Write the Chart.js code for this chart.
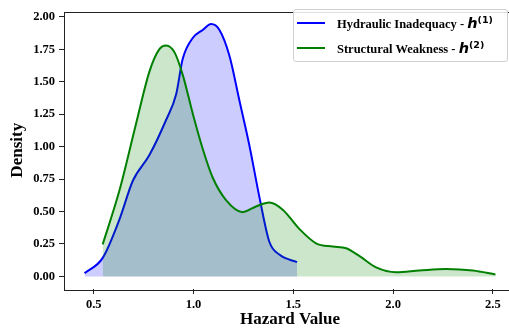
<!DOCTYPE html>
<html lang="en">
<head>
    <meta charset="UTF-8">
    <title>Hazard Value Density</title>
    <script src="https://cdn.jsdelivr.net/npm/chart.js"></script>
    <style>
        html, body { margin: 0; padding: 0; background: #fff; overflow: hidden; }
        #wrap { position: relative; width: 509px; height: 336px; overflow: hidden; }
        #chart { position: absolute; left: 0; top: 0; }
        .legend {
            position: absolute; left: 293px; top: 9px; width: 215px; height: 53px;
            box-sizing: border-box; border: 1px solid #d0d0d0; border-radius: 3px;
            background: rgba(255, 255, 255, 0.85);
        }
        .row { position: absolute; left: 0; height: 20px; width: 100%; }
        .swatch { position: absolute; left: 3px; top: 9px; width: 28px; height: 2px; }
        .lbl {
            position: absolute; left: 43px; top: 0; line-height: 20px; white-space: nowrap;
            font-family: "Liberation Serif", serif; font-weight: bold; font-size: 12.5px; color: #000;
        }
        .lbl i { font-family: "DejaVu Sans", sans-serif; font-weight: bold; font-style: italic; font-size: 14.5px; }
        .lbl sup { font-family: "DejaVu Sans", sans-serif; font-weight: bold; font-size: 9.5px; vertical-align: 5px; line-height: 0; }
    </style>
</head>
<body>

<div id="wrap">
    <canvas id="chart" width="520" height="336"></canvas>
    <div class="legend">
        <div class="row" style="top: 3px;">
            <span class="swatch" style="background: #0000ff;"></span>
            <span class="lbl">Hydraulic Inadequacy - <i>h</i><sup>(1)</sup></span>
        </div>
        <div class="row" style="top: 28px;">
            <span class="swatch" style="background: #008000;"></span>
            <span class="lbl">Structural Weakness - <i>h</i><sup>(2)</sup></span>
        </div>
    </div>
</div>

<script>
    // density curves
    var hydX = [0.454, 0.545, 0.629, 0.696, 0.779, 0.863, 0.913, 0.946, 0.996, 1.046, 1.088, 1.13, 1.18, 1.23, 1.28, 1.33, 1.38, 1.43, 1.519];
    var hydY = [0.024, 0.143, 0.44, 0.737, 0.935, 1.207, 1.404, 1.677, 1.837, 1.899, 1.944, 1.899, 1.70, 1.355, 1.009, 0.613, 0.267, 0.168, 0.11];

    var strX = [0.545, 0.629, 0.713, 0.779, 0.829, 0.863, 0.905, 0.946, 0.996, 1.046, 1.096, 1.163, 1.246, 1.313, 1.38, 1.447, 1.53, 1.614, 1.698, 1.765, 1.832, 1.915, 2.015, 2.132, 2.266, 2.4, 2.513];
    var strY = [0.247, 0.663, 1.182, 1.578, 1.751, 1.78, 1.726, 1.553, 1.256, 0.984, 0.762, 0.588, 0.495, 0.539, 0.569, 0.514, 0.366, 0.255, 0.23, 0.217, 0.156, 0.069, 0.032, 0.045, 0.057, 0.045, 0.015];

    var xTicks = [0.5, 1.0, 1.5, 2.0, 2.5];
    var yTicks = [0, 0.25, 0.5, 0.75, 1.0, 1.25, 1.5, 1.75, 2.0];

    var seriesNames = ['Hydraulic Inadequacy', 'Structural Weakness'];

    function toPoints(xs, ys) {
        return xs.map(function (x, i) { return { x: x, y: ys[i] }; });
    }

    var tickFont = { family: '"Liberation Serif", serif', weight: 'bold', size: 12.5 };
    var titleFont = { family: '"Liberation Serif", serif', weight: 'bold', size: 17 };

    var framePlugin = {
        id: 'frame',
        afterDatasetsDraw: function (chart) {
            var a = chart.chartArea, ctx = chart.ctx;
            ctx.save();
            ctx.strokeStyle = '#222';
            ctx.lineWidth = 1;
            ctx.strokeRect(Math.round(a.left) + 0.5, Math.round(a.top) + 0.5,
                Math.round(a.right - a.left), Math.round(a.bottom - a.top));
            ctx.restore();
        }
    };

    new Chart(document.getElementById('chart').getContext('2d'), {
        type: 'line',
        data: {
            datasets: [
                {
                    label: seriesNames[0],
                    data: toPoints(hydX, hydY),
                    borderColor: '#0000ff',
                    backgroundColor: 'rgba(0, 0, 255, 0.2)',
                    borderWidth: 2,
                    pointRadius: 0,
                    fill: 'origin',
                    cubicInterpolationMode: 'monotone',
                    order: 1
                },
                {
                    label: seriesNames[1],
                    data: toPoints(strX, strY),
                    borderColor: '#008000',
                    backgroundColor: 'rgba(0, 128, 0, 0.2)',
                    borderWidth: 2,
                    pointRadius: 0,
                    fill: 'origin',
                    cubicInterpolationMode: 'monotone',
                    order: 0
                }
            ]
        },
        options: {
            responsive: false,
            animation: false,
            layout: { padding: { top: 2, right: 4, left: 0, bottom: 0 } },
            plugins: {
                legend: { display: false },
                tooltip: { enabled: false }
            },
            scales: {
                x: {
                    type: 'linear',
                    min: 0.351,
                    max: 2.616,
                    afterBuildTicks: function (s) { s.ticks = xTicks.map(function (v) { return { value: v }; }); },
                    afterFit: function (s) { s.height = 47; },
                    ticks: {
                        callback: function (v) { return v.toFixed(1); },
                        font: tickFont, color: '#000', padding: 3, maxRotation: 0, autoSkip: false
                    },
                    grid: { drawOnChartArea: false, tickLength: 5, color: '#222' },
                    border: { display: false },
                    title: { display: true, text: 'Hazard Value', font: titleFont, color: '#000', padding: { top: 2, bottom: 6 } }
                },
                y: {
                    min: -0.097,
                    max: 2.041,
                    afterBuildTicks: function (s) { s.ticks = yTicks.map(function (v) { return { value: v }; }); },
                    afterFit: function (s) { s.width = 64; },
                    ticks: {
                        callback: function (v) { return v.toFixed(2); },
                        font: tickFont, color: '#000', padding: 4, autoSkip: false
                    },
                    grid: { drawOnChartArea: false, tickLength: 5, color: '#222' },
                    border: { display: false },
                    title: { display: true, text: 'Density', font: titleFont, color: '#000', padding: { top: 7, bottom: 0 } }
                }
            }
        },
        plugins: [framePlugin]
    });
</script>

</body>
</html>
